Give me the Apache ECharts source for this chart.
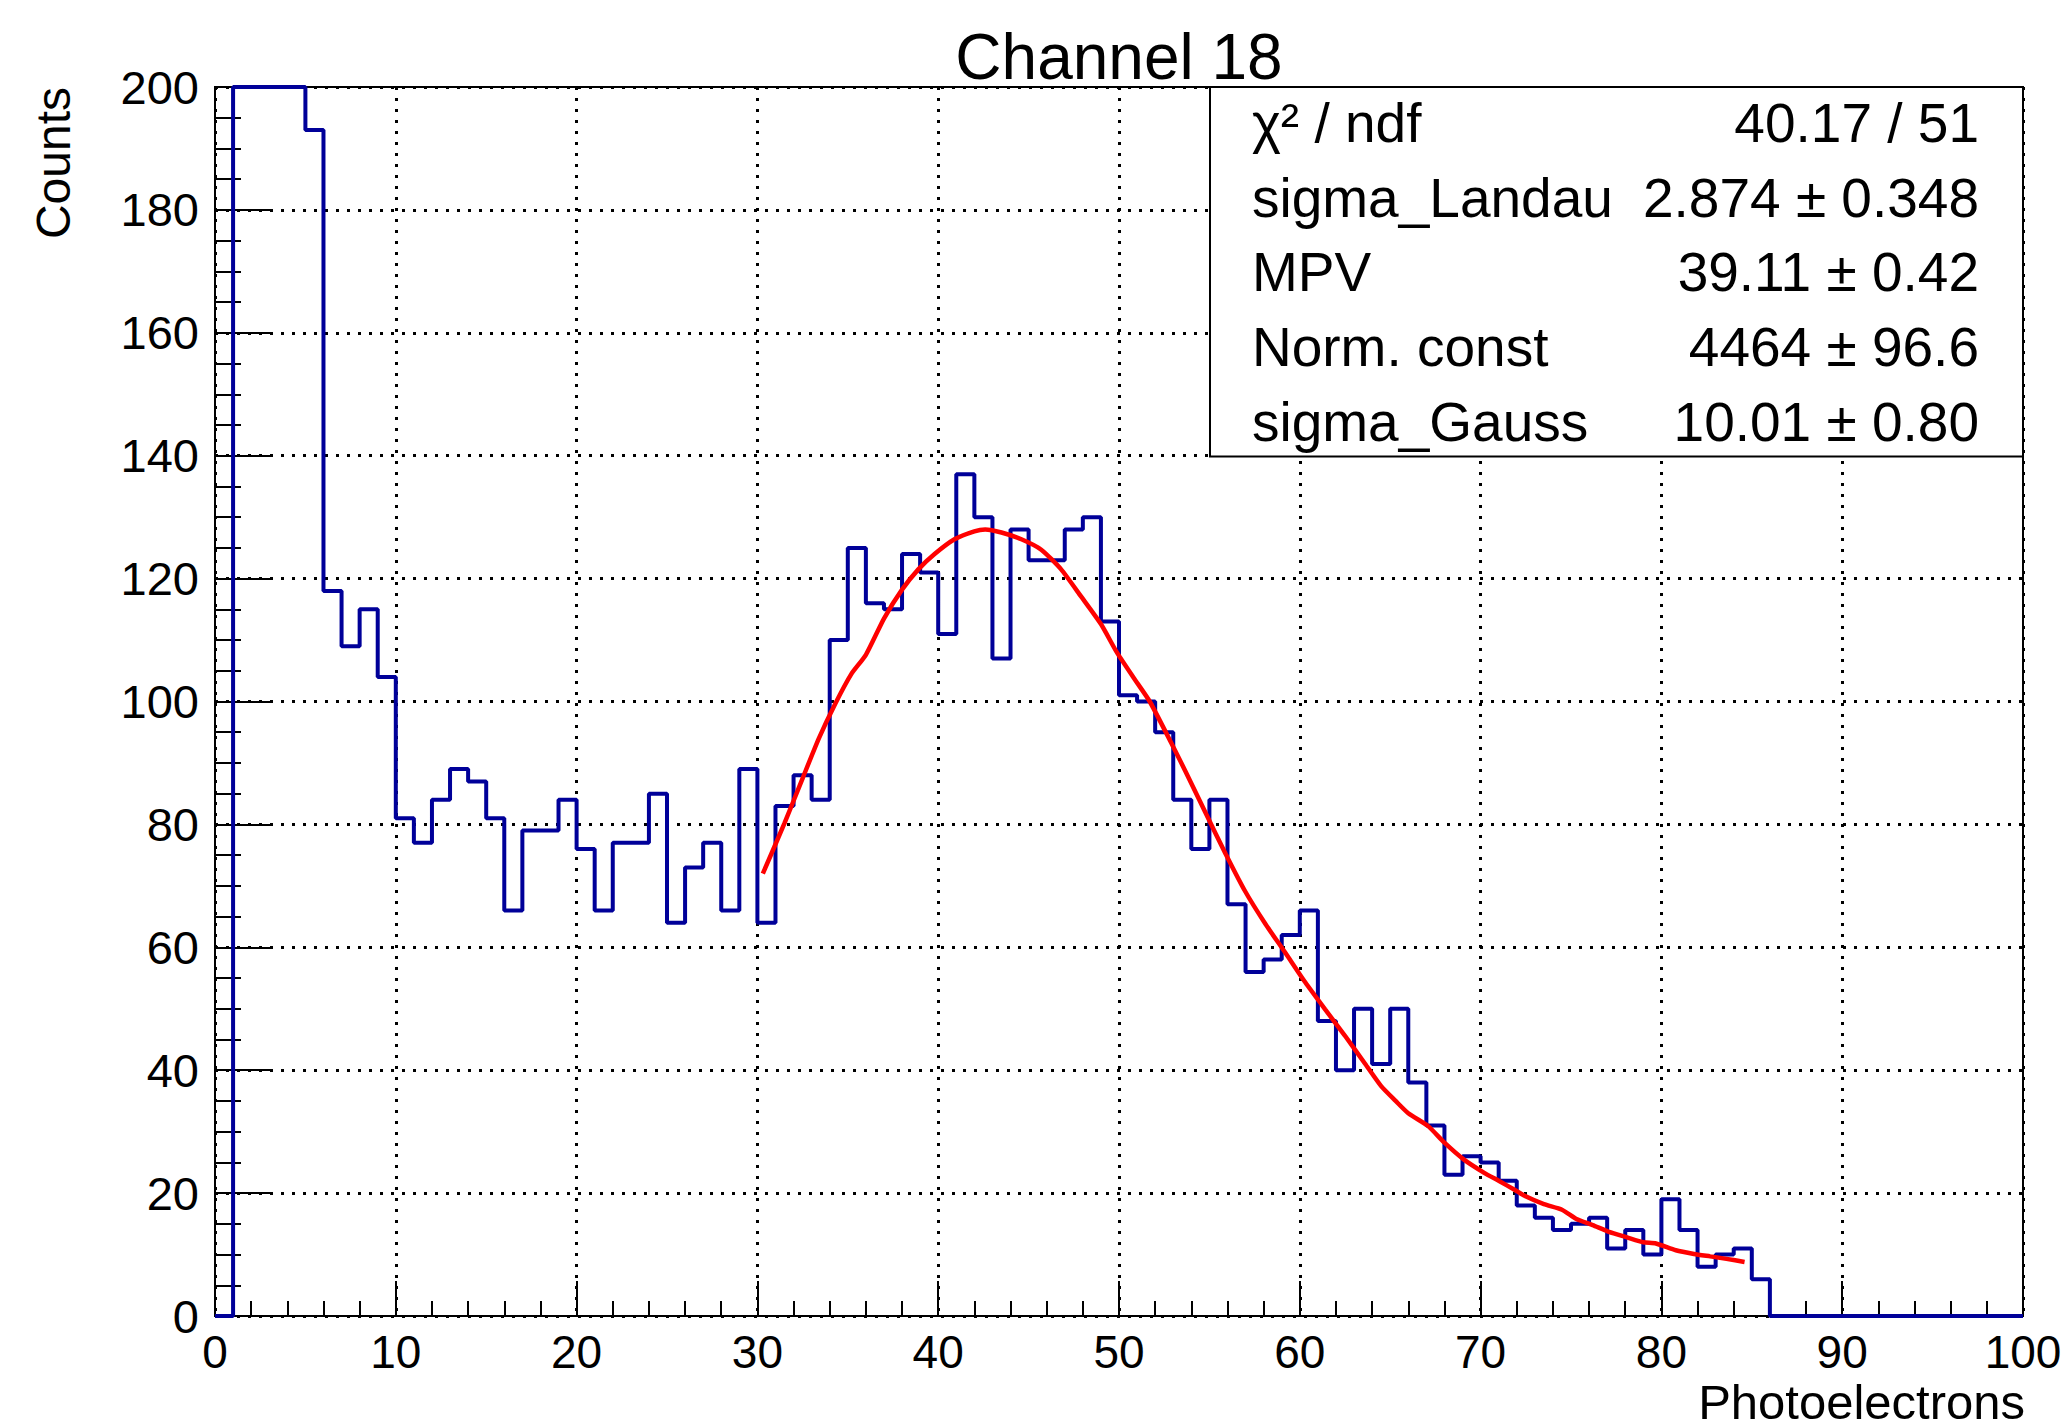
<!DOCTYPE html>
<html>
<head>
<meta charset="utf-8">
<script src="https://cdn.jsdelivr.net/npm/echarts@6/dist/echarts.min.js"></script>
<style>
html,body{margin:0;padding:0;background:#fff;}
#chart{width:2069px;height:1427px;}
</style>
</head>
<body>
<div id="chart"></div>
<script>
// ---------------- data ----------------
const titleText = 'Channel 18';
const xAxisTitle = 'Photoelectrons';
const yAxisTitle = 'Counts';
const xTickLabels = [0, 10, 20, 30, 40, 50, 60, 70, 80, 90, 100];
const yTickLabels = [0, 20, 40, 60, 80, 100, 120, 140, 160, 180, 200];

// histogram bins: bin i spans [binLowEdge[i], binLowEdge[i] + binWidth]
const binWidth = 1;
const binLowEdge = [
  0, 1, 2, 3, 4, 5, 6, 7, 8, 9,
  10, 11, 12, 13, 14, 15, 16, 17, 18, 19,
  20, 21, 22, 23, 24, 25, 26, 27, 28, 29,
  30, 31, 32, 33, 34, 35, 36, 37, 38, 39,
  40, 41, 42, 43, 44, 45, 46, 47, 48, 49,
  50, 51, 52, 53, 54, 55, 56, 57, 58, 59,
  60, 61, 62, 63, 64, 65, 66, 67, 68, 69,
  70, 71, 72, 73, 74, 75, 76, 77, 78, 79,
  80, 81, 82, 83, 84, 85, 86, 87, 88, 89,
  90, 91, 92, 93, 94, 95, 96, 97, 98, 99
];
// bins 1-4 run off the top of the frame (above 200): values estimated
const counts = [
  0, 240, 236, 231, 224, 193, 118, 109, 115, 104,
  81, 77, 84, 89, 87, 81, 66, 79, 79, 84,
  76, 66, 77, 77, 85, 64, 73, 77, 66, 89,
  64, 83, 88, 84, 110, 125, 116, 115, 124, 121,
  111, 137, 130, 107, 128, 123, 123, 128, 130, 113,
  101, 100, 95, 84, 76, 84, 67, 56, 58, 62,
  66, 48, 40, 50, 41, 50, 38, 31, 23, 26,
  25, 22, 18, 16, 14, 15, 16, 11, 14, 10,
  19, 14, 8, 10, 11, 6, 0, 0, 0, 0,
  0, 0, 0, 0, 0, 0, 0, 0, 0, 0
];

// fitted Landau (x) Gauss curve
const fitX = [30.3, 31.5, 32.5, 33.4, 34.3, 35.2, 36.0, 37.0, 38.0, 38.9,
  39.8, 40.9, 42.0, 42.6, 43.5, 44.6, 45.7, 46.8, 47.9, 49.0,
  49.9, 50.8, 51.7, 52.9, 53.7, 54.8, 55.9, 57.0, 58.1, 59.2,
  60.3, 61.4, 62.5, 63.6, 64.5, 65.3, 66.0, 67.1, 68.0, 69.1,
  70.2, 71.0, 71.9, 72.4, 73.5, 74.5, 75.3, 76.2, 77.1, 78.1,
  79.0, 79.7, 80.8, 81.8, 82.7, 83.6, 84.6];
const fitY = [72.0, 80.2, 87.5, 94.0, 99.6, 104.5, 107.6, 113.5, 118.2, 121.5,
  124.0, 126.4, 127.7, 128.0, 127.5, 126.4, 124.7, 121.5, 117.1, 112.6,
  107.9, 103.9, 100.0, 93.2, 88.5, 81.8, 75.2, 69.0, 63.8, 59.1,
  54.3, 49.9, 45.6, 41.1, 37.4, 35.0, 33.0, 30.9, 28.2, 25.4,
  23.3, 22.0, 20.5, 19.6, 18.2, 17.3, 15.8, 14.8, 13.7, 12.8,
  12.0, 11.8, 10.7, 10.1, 9.7, 9.3, 8.8];

const statsLabels = ['\u03C7\u00B2 / ndf', 'sigma_Landau', 'MPV', 'Norm. const', 'sigma_Gauss'];
const statsValues = ['40.17 / 51', '2.874 \u00B1 0.348', '39.11 \u00B1 0.42', '4464 \u00B1 96.6', '10.01 \u00B1 0.80'];

// ---------------- layout ----------------
const FONT = "'Liberation Sans', Arial, Helvetica, sans-serif";
const xMin = xTickLabels[0], xMax = xTickLabels[xTickLabels.length - 1];
const yMin = yTickLabels[0], yMax = yTickLabels[yTickLabels.length - 1];
const G = { left: 215, top: 87, width: 1808, height: 1229 };
const statsBox = { x: 1210, y: 87, w: 813, h: 369.5 };
const statsRowY = [123, 197.6, 272.4, 347, 422];

// histogram outline as a step line (ROOT draws overflowing bins at the frame top)
const histData = binLowEdge.map((x, i) => [x, Math.min(counts[i], yMax)]);
histData.push([binLowEdge[binLowEdge.length - 1] + binWidth, Math.min(counts[counts.length - 1], yMax)]);
const fitData = fitX.map((x, i) => [x, fitY[i]]);

const chart = echarts.init(document.getElementById('chart'), null, { renderer: 'svg', width: 2069, height: 1427 });

const gridLine = { show: true, lineStyle: { color: '#000', width: 3, type: [3, 8] } };
const tickStyle = { color: '#000', width: 2 };

const graphics = [
  {
    type: 'rect', z: 100,
    shape: { x: statsBox.x, y: statsBox.y, width: statsBox.w, height: statsBox.h },
    style: { fill: '#fff', stroke: '#000', lineWidth: 2 }
  }
];
statsLabels.forEach((t, i) => {
  graphics.push({
    type: 'text', z: 101, x: 1252, y: statsRowY[i],
    style: { text: t, fontSize: 55, fontFamily: FONT, fill: '#000', align: 'left', verticalAlign: 'middle' }
  });
  graphics.push({
    type: 'text', z: 101, x: 1979, y: statsRowY[i],
    style: { text: statsValues[i], fontSize: 55, fontFamily: FONT, fill: '#000', align: 'right', verticalAlign: 'middle' }
  });
});
graphics.push({
  type: 'text', z: 101, x: 53, y: 87, rotation: Math.PI / 2,
  style: { text: yAxisTitle, fontSize: 48, fontFamily: FONT, fill: '#000', align: 'right', verticalAlign: 'middle' }
});
graphics.push({
  type: 'text', z: 101, x: 2025, y: 1426,
  style: { text: xAxisTitle, fontSize: 49, fontFamily: FONT, fill: '#000', align: 'right', verticalAlign: 'bottom' }
});

const option = {
  animation: false,
  backgroundColor: '#fff',
  textStyle: { fontFamily: FONT },
  title: {
    text: titleText, left: 1119, top: 25, textAlign: 'center', padding: 0,
    textStyle: { fontSize: 64, fontWeight: 'normal', color: '#000', fontFamily: FONT }
  },
  grid: {
    left: G.left, top: G.top, width: G.width, height: G.height,
    show: true, borderColor: '#000', borderWidth: 2, backgroundColor: '#fff',
    containLabel: false, outerBoundsMode: 'none'
  },
  xAxis: {
    type: 'value', min: xMin, max: xMax, interval: 10,
    axisLine: { show: true, onZero: false, lineStyle: { color: '#000', width: 2 } },
    axisTick: { show: true, inside: true, length: 35, lineStyle: tickStyle },
    minorTick: { show: true, splitNumber: 5, length: 15, lineStyle: tickStyle },
    axisLabel: { margin: 13, fontSize: 46, color: '#000', fontFamily: FONT, showMinLabel: true, showMaxLabel: true,
      formatter: v => String(v) },
    splitLine: gridLine,
    minorSplitLine: { show: false }
  },
  yAxis: {
    type: 'value', min: yMin, max: yMax, interval: 20,
    axisLine: { show: true, onZero: false, lineStyle: { color: '#000', width: 2 } },
    axisTick: { show: true, inside: true, length: 56, lineStyle: tickStyle },
    minorTick: { show: true, splitNumber: 4, length: 26, lineStyle: tickStyle },
    axisLabel: { margin: 16, fontSize: 47, color: '#000', fontFamily: FONT, showMinLabel: true, showMaxLabel: true,
      formatter: v => String(v) },
    splitLine: gridLine,
    minorSplitLine: { show: false }
  },
  series: [
    {
      name: 'histogram', type: 'line', data: histData, step: 'end',
      symbol: 'none', showSymbol: false, clip: true, z: 3,
      lineStyle: { color: '#000099', width: 4 }
    },
    {
      name: 'fit', type: 'line', data: fitData, smooth: 0.2,
      symbol: 'none', showSymbol: false, clip: true, z: 4,
      lineStyle: { color: '#ff0000', width: 4.5 }
    }
  ],
  graphic: graphics
};
chart.setOption(option);
</script>
</body>
</html>
